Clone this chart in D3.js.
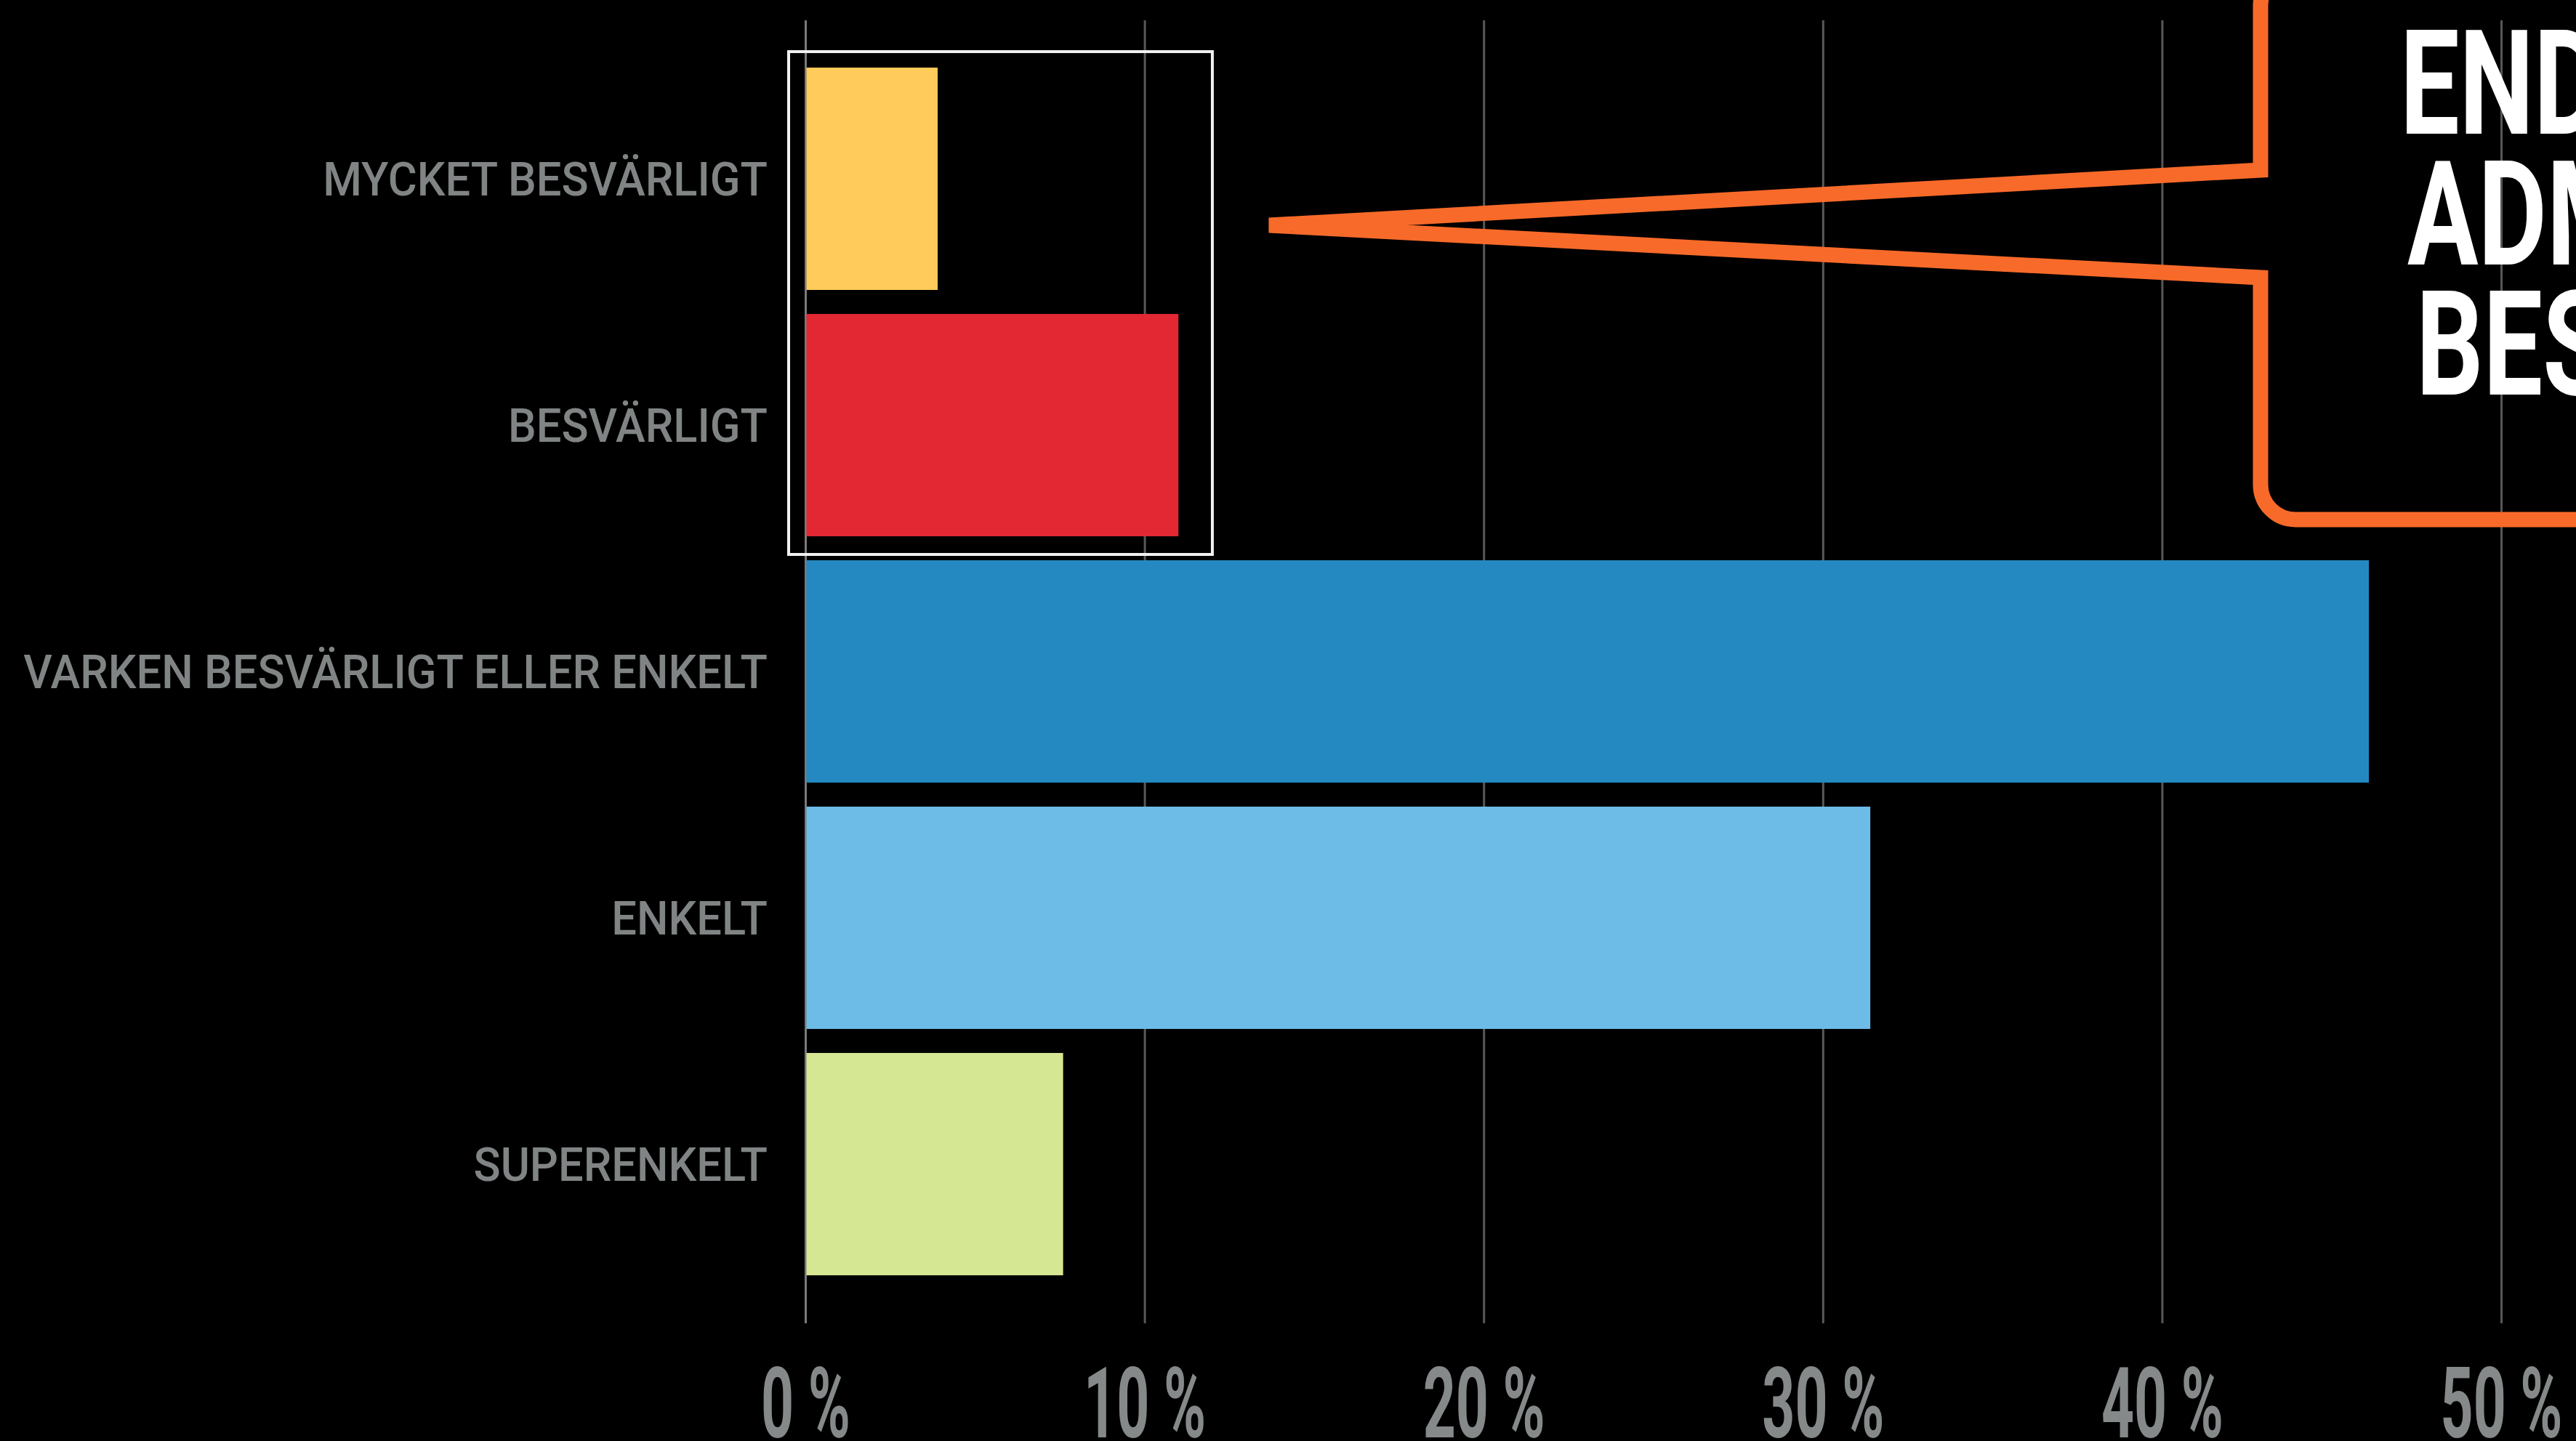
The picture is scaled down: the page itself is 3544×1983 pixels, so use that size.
<!DOCTYPE html>
<html>
<head>
<meta charset="utf-8">
<script src="https://cdn.jsdelivr.net/npm/d3@7"></script>
<style>
  html, body { margin: 0; padding: 0; background: #000; }
  svg { display: block; }
</style>
</head>
<body>
<svg id="chart" width="3544" height="1983"></svg>
<script>
// ---- data ----
const categories = ["MYCKET BESVÄRLIGT", "BESVÄRLIGT", "VARKEN BESVÄRLIGT ELLER ENKELT", "ENKELT", "SUPERENKELT"];
const values = [3.9, 11.0, 46.1, 31.4, 7.6];
const barColors = ["#ffcb5a", "#e32833", "#2489c1", "#6dbce8", "#d6e793"];
const tickValues = [0, 10, 20, 30, 40, 50];
const tickLabels = ["0 %", "10 %", "20 %", "30 %", "40 %", "50 %"];
const highlighted = ["MYCKET BESVÄRLIGT", "BESVÄRLIGT"];
const highlightMax = 12;
const titleLines = ["ENDAST 15 %", "ADMINISTRATIONEN", "BESVÄRLIG"];

// ---- layout ----
const W = 3544, H = 1983;
const svg = d3.select("#chart");
svg.append("rect").attr("width", W).attr("height", H).attr("fill", "#000");

const x = d3.scaleLinear().domain([0, 50]).range([1108, 3441]);
const y = d3.scaleBand().domain(categories).range([60, 1788]).paddingInner(0.0975).paddingOuter(0.0975);

const gridTop = 28, gridBottom = 1821;

// gridlines + tick labels through d3 axis
const axis = d3.axisBottom(x)
  .tickValues(tickValues)
  .tickSize(-(gridBottom - gridTop))
  .tickFormat((d, i) => tickLabels[i]);

const gAxis = svg.append("g").attr("transform", `translate(0,${gridBottom})`).call(axis);
gAxis.select(".domain").remove();
gAxis.selectAll(".tick line").attr("stroke", "#585858").attr("stroke-width", 3);
gAxis.selectAll(".tick line").filter(d => d === 0).attr("stroke", "#7a7a7a");

const tickText = gAxis.selectAll(".tick text")
  .attr("fill", "#858989")
  .attr("font-family", "Roboto, 'DejaVu Sans', sans-serif")
  .attr("font-weight", 700)
  .attr("font-size", 135)
  .attr("text-anchor", "middle")
  .attr("dy", null)
  .attr("y", 0);
// compress horizontally to match the condensed face
let tenLen = 0;
tickText.each(function(d) { if (d === 10) tenLen = this.getComputedTextLength(); });
const tickSx = 168 / (tenLen || 290);
tickText.attr("transform", `translate(0,${1978 - gridBottom}) scale(${tickSx},1)`);

// bars
svg.append("g").selectAll("rect")
  .data(values)
  .join("rect")
  .attr("x", x(0) + 1.5)
  .attr("y", (d, i) => y(categories[i]))
  .attr("width", d => x(d) - x(0) - 1.5)
  .attr("height", y.bandwidth())
  .attr("fill", (d, i) => barColors[i]);

// category labels
const labelG = svg.append("g");
const labels = labelG.selectAll("text")
  .data(categories)
  .join("text")
  .attr("fill", "#808484")
  .attr("font-family", "Roboto, 'DejaVu Sans', sans-serif")
  .attr("font-weight", 500)
  .attr("font-size", 65)
  .attr("text-anchor", "end")
  .text(d => d);
let longLen = 0;
labels.each(function(d) { longLen = Math.max(longLen, this.getComputedTextLength()); });
const labSx = 1024 / (longLen || 1100);
labels.attr("transform", d => `translate(1056,${y(d) + y.bandwidth() / 2 + 23}) scale(${labSx},1)`);

// highlight box around the "besvärligt" bars
const bTop = y(highlighted[0]) - 22;
const bBot = y(highlighted[1]) + y.bandwidth() + 25;
svg.append("rect")
  .attr("x", x(0) - 23)
  .attr("y", bTop)
  .attr("width", x(highlightMax) - (x(0) - 23))
  .attr("height", bBot - bTop)
  .attr("fill", "none")
  .attr("stroke", "#f2f2f2")
  .attr("stroke-width", 4);

// callout bubble
const bx = 3110, r = 48, topY = -40, botY = 715;
const tipX = 1746, tipY = 310, upY = 234, loY = 382;
const p = d3.path();
p.moveTo(3700, topY);
p.lineTo(bx + r, topY);
p.arcTo(bx, topY, bx, topY + r, r);
p.lineTo(bx, upY);
p.lineTo(tipX, tipY);
p.lineTo(bx, loY);
p.lineTo(bx, botY - r);
p.arcTo(bx, botY, bx + r, botY, r);
p.lineTo(3700, botY);
svg.append("path")
  .attr("d", p.toString())
  .attr("fill", "none")
  .attr("stroke", "#f86a2a")
  .attr("stroke-width", 21)
  .attr("stroke-linejoin", "miter")
  .attr("stroke-miterlimit", 4);

// callout title
const titleG = svg.append("g");
const baselines = [184, 364, 543];
const startX = [3302, 3312, 3324];
const tt = titleG.selectAll("text")
  .data(titleLines)
  .join("text")
  .attr("fill", "#ffffff")
  .attr("font-family", "Roboto, 'DejaVu Sans', sans-serif")
  .attr("font-weight", 700)
  .attr("font-size", 201)
  .text(d => d);
// scale to match condensed face: E-to-D pitch ~182px
const probe = titleG.append("text").attr("font-family", "Roboto, 'DejaVu Sans', sans-serif")
  .attr("font-weight", 700).attr("font-size", 201).text("EN");
const enLen = probe.node().getComputedTextLength();
probe.remove();
const titleSx = 184 / (enLen || 260);
tt.attr("transform", (d, i) => `translate(${startX[i]},${baselines[i]}) scale(${titleSx},1)`);
</script>
</body>
</html>
